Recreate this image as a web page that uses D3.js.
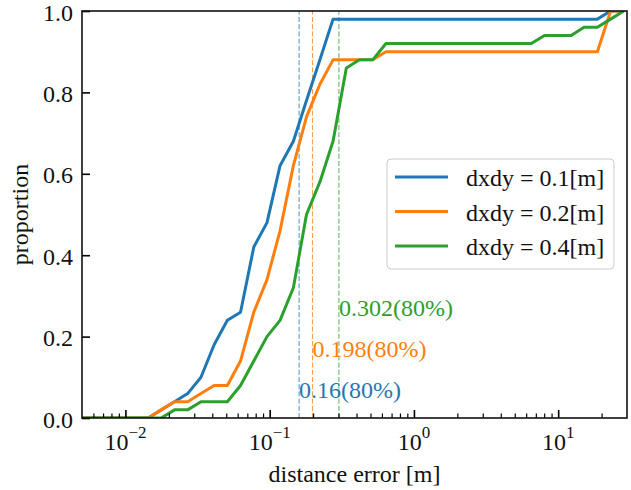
<!DOCTYPE html>
<html>
<head>
<meta charset="utf-8">
<script src="https://cdn.jsdelivr.net/npm/d3@7"></script>
<style>
  body { margin: 0; background: #fff; }
  svg text { font-family: "Liberation Serif", "Times New Roman", serif; fill: #111; }
</style>
</head>
<body>
<div id="chart"></div>
<script>
// distance error grid [m]
const errGrid = [0.00500, 0.00618, 0.00762, 0.00941, 0.0116, 0.0144, 0.0177, 0.0219, 0.0270, 0.0334,
                 0.0412, 0.0509, 0.0628, 0.0776, 0.0958, 0.118, 0.146, 0.180, 0.223, 0.275,
                 0.340, 0.419, 0.518, 0.640, 0.790, 0.975, 1.20, 1.49, 1.84, 2.27,
                 2.80, 3.46, 4.27, 5.27, 6.51, 8.04, 9.92, 12.3, 15.1, 18.7,
                 23.1, 28.5];

const propDxdy01 = [0, 0, 0, 0, 0, 0, 0.02, 0.04, 0.06, 0.10,
                    0.18, 0.24, 0.26, 0.42, 0.48, 0.62, 0.68, 0.78, 0.88, 0.98,
                    0.98, 0.98, 0.98, 0.98, 0.98, 0.98, 0.98, 0.98, 0.98, 0.98,
                    0.98, 0.98, 0.98, 0.98, 0.98, 0.98, 0.98, 0.98, 0.98, 0.98,
                    1.0, 1.0];
const propDxdy02 = [0, 0, 0, 0, 0, 0, 0.02, 0.04, 0.04, 0.06,
                    0.08, 0.08, 0.14, 0.26, 0.34, 0.46, 0.62, 0.74, 0.82, 0.88,
                    0.88, 0.88, 0.88, 0.90, 0.90, 0.90, 0.90, 0.90, 0.90, 0.90,
                    0.90, 0.90, 0.90, 0.90, 0.90, 0.90, 0.90, 0.90, 0.90, 0.90,
                    1.0, 1.0];
const propDxdy04 = [0, 0, 0, 0, 0, 0, 0, 0.02, 0.02, 0.04,
                    0.04, 0.04, 0.08, 0.14, 0.20, 0.24, 0.32, 0.50, 0.58, 0.68,
                    0.86, 0.88, 0.88, 0.92, 0.92, 0.92, 0.92, 0.92, 0.92, 0.92,
                    0.92, 0.92, 0.92, 0.92, 0.92, 0.94, 0.94, 0.94, 0.96, 0.96,
                    0.98, 1.0];

const seriesNames = ["dxdy = 0.1[m]", "dxdy = 0.2[m]", "dxdy = 0.4[m]"];
const seriesColors = ["#1f77b4", "#ff7f0e", "#2ca02c"];
const err80 = [0.16, 0.198, 0.302];
const err80Labels = ["0.16(80%)", "0.198(80%)", "0.302(80%)"];
const err80LabelY = [0.05, 0.15, 0.25];

const xMajor = [0.01, 0.1, 1, 10];
const xMajorExp = ["\u22122", "\u22121", "0", "1"];
const yTicks = [0, 0.2, 0.4, 0.6, 0.8, 1.0];

const series = [propDxdy01, propDxdy02, propDxdy04];

const width = 631, height = 490;
const margin = {top: 11, right: 4, bottom: 72, left: 82};
const fs = 24;

const svg = d3.select("#chart").append("svg")
    .attr("width", width)
    .attr("height", height);

const x = d3.scaleLog()
    .domain([0.005, 30])
    .range([margin.left, width - margin.right]);

const y = d3.scaleLinear()
    .domain([0, 1])
    .range([height - margin.bottom, margin.top]);

// minor ticks 2..9 of each decade inside the domain
const xMinor = [];
for (let e = -3; e <= 1; e++) {
    for (let m = 2; m <= 9; m++) {
        const v = m * Math.pow(10, e);
        if (v > x.domain()[0] && v < x.domain()[1]) xMinor.push(v);
    }
}

const plot = svg.append("g");

plot.append("clipPath").attr("id", "clip")
  .append("rect")
    .attr("x", x.range()[0]).attr("y", y.range()[1])
    .attr("width", x.range()[1] - x.range()[0])
    .attr("height", y.range()[0] - y.range()[1]);

// 80% markers
plot.selectAll("line.v80")
    .data(err80)
    .enter().append("line")
    .attr("class", "v80")
    .attr("x1", d => x(d)).attr("x2", d => x(d))
    .attr("y1", y(0)).attr("y2", y(1))
    .attr("stroke", (d, i) => seriesColors[i])
    .attr("stroke-width", 1)
    .attr("stroke-dasharray", "5,2.2")
    .attr("opacity", 0.8);

const line = d3.line()
    .x((d, i) => x(errGrid[i]))
    .y(d => y(d));

plot.append("g").attr("clip-path", "url(#clip)")
  .selectAll("path")
    .data(series)
    .enter().append("path")
    .attr("d", line)
    .attr("fill", "none")
    .attr("stroke", (d, i) => seriesColors[i])
    .attr("stroke-width", 3)
    .attr("stroke-linejoin", "round");

plot.selectAll("text.t80")
    .data(err80)
    .enter().append("text")
    .attr("class", "t80")
    .attr("x", d => x(d))
    .attr("y", (d, i) => y(err80LabelY[i]))
    .attr("font-size", fs)
    .style("fill", (d, i) => seriesColors[i])
    .text((d, i) => err80Labels[i]);

// axes, ticks pointing inwards
const xAxis = svg.append("g")
    .attr("transform", "translate(0," + y(0) + ")")
    .call(d3.axisBottom(x).tickValues(xMajor).tickSize(-8).tickPadding(0).tickFormat(""));
xAxis.select(".domain").remove();
xAxis.selectAll(".tick line").attr("stroke-width", 1.6);
xAxis.selectAll(".tick text").remove();

const xMinorAxis = svg.append("g")
    .attr("transform", "translate(0," + y(0) + ")")
    .call(d3.axisBottom(x).tickValues(xMinor).tickSize(-4.5).tickFormat(""));
xMinorAxis.select(".domain").remove();
xMinorAxis.selectAll(".tick line").attr("stroke-width", 1.2);

const xLabels = svg.append("g")
  .selectAll("text")
    .data(xMajor)
    .enter().append("text")
    .attr("x", d => x(d))
    .attr("y", y(0) + 32)
    .attr("text-anchor", "middle")
    .attr("font-size", fs);
xLabels.append("tspan").text("10");
xLabels.append("tspan")
    .attr("dy", -12)
    .attr("font-size", 17)
    .text((d, i) => xMajorExp[i]);

const yAxis = svg.append("g")
    .attr("transform", "translate(" + x.range()[0] + ",0)")
    .call(d3.axisLeft(y).tickValues(yTicks).tickSize(-8).tickPadding(9).tickFormat(d3.format(".1f")));
yAxis.select(".domain").remove();
yAxis.selectAll(".tick line").attr("stroke-width", 1.6);
yAxis.selectAll(".tick text")
    .attr("font-size", fs)
    .attr("font-family", null)
    .attr("dy", "0.38em");

// spines
svg.append("rect")
    .attr("x", x.range()[0]).attr("y", y.range()[1])
    .attr("width", x.range()[1] - x.range()[0])
    .attr("height", y.range()[0] - y.range()[1])
    .attr("fill", "none")
    .attr("stroke", "#111")
    .attr("stroke-width", 1.6);

svg.append("text")
    .attr("x", (x.range()[0] + x.range()[1]) / 2)
    .attr("y", 482)
    .attr("text-anchor", "middle")
    .attr("font-size", fs)
    .text("distance error [m]");

svg.append("text")
    .attr("transform", "translate(28," + (y.range()[0] + y.range()[1]) / 2 + ") rotate(-90)")
    .attr("text-anchor", "middle")
    .attr("font-size", fs)
    .text("proportion");

// legend
const legend = svg.append("g").attr("transform", "translate(387,159)");
legend.append("rect")
    .attr("width", 227).attr("height", 110)
    .attr("rx", 4)
    .attr("fill", "#fff").attr("fill-opacity", 0.8)
    .attr("stroke", "#ccc").attr("stroke-width", 1);

const rows = legend.selectAll("g.row")
    .data(seriesNames)
    .enter().append("g")
    .attr("class", "row")
    .attr("transform", (d, i) => "translate(0," + (18 + i * 34.5) + ")");
rows.append("line")
    .attr("x1", 8).attr("x2", 61)
    .attr("stroke", (d, i) => seriesColors[i])
    .attr("stroke-width", 3);
rows.append("text")
    .attr("x", 79).attr("y", 9)
    .attr("font-size", fs)
    .text(d => d);
</script>
</body>
</html>
